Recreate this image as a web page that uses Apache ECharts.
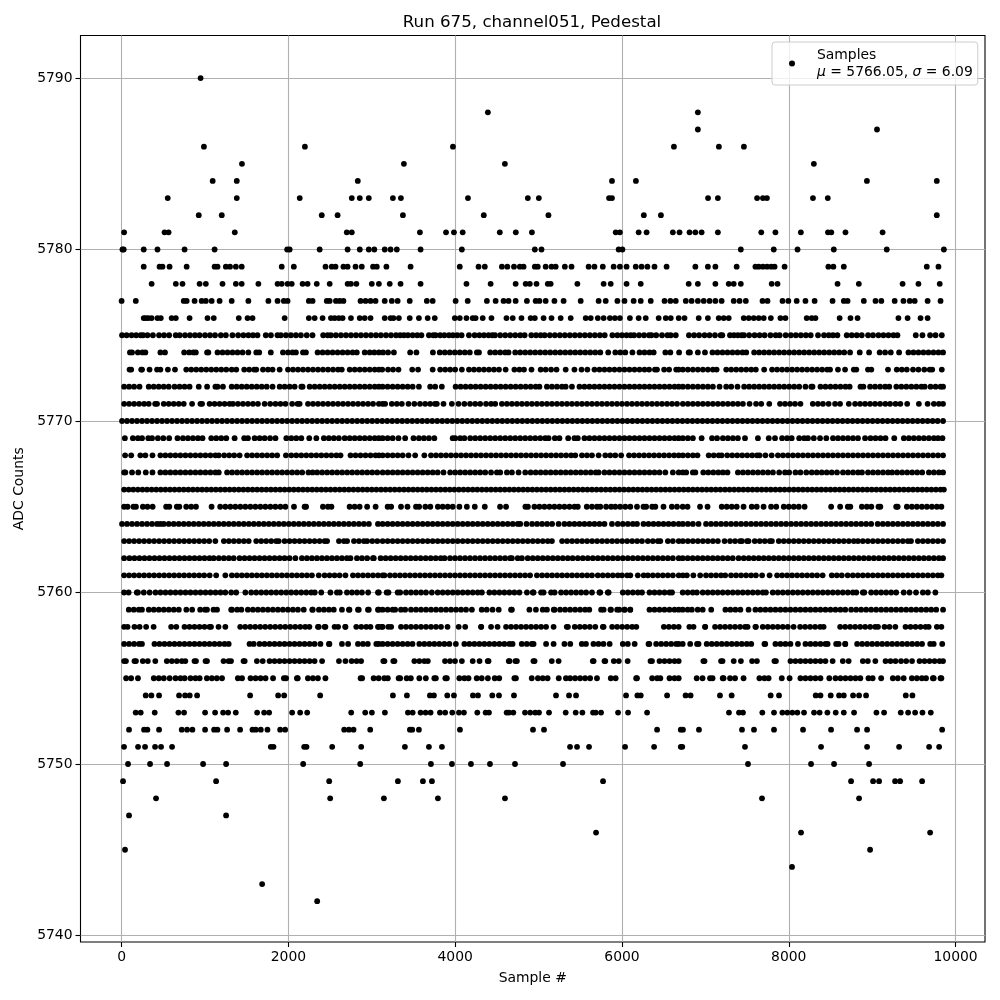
<!DOCTYPE html>
<html><head><meta charset="utf-8">
<style>html,body{margin:0;padding:0;background:#fff}#c{width:1000px;height:1000px}</style>
<script src="https://cdn.jsdelivr.net/npm/echarts@6/dist/echarts.min.js"></script>
</head><body><div id="c"></div>
<script>
const xTicks=[0,2000,4000,6000,8000,10000];
const yTicks=[5740,5750,5760,5770,5780,5790];
const s5790=[947];
const s5788=[4392,6910];
const s5787=[6910,9058];
const s5786=[987,2198,3973,6623,7162,7462];
const s5785=[1443,3385,4596,8301];
const s5784=[1092,1381,2832,5880,6167,8937,9775];
const s5783=[553,1381,2136,2760,2856,2964,3253,3349,4153,4871,5003,5845,5880,7032,7150,7620,7690,7738,8290,8468];
const s5782=[925,1201,2400,2590,3373,4343,5118,6262,6467,9775];
const s5781=[30,515,563,1357,2700,2760,3577,3890,3985,4090,4535,4727,4920,5925,5975,6200,6295,6610,6690,6810,6880,6955,7150,7670,7840,8145,8470,8510,8680,9125];
const s5780=[10,25,265,430,755,1115,1985,2015,2375,2710,2856,2964,3030,3155,3225,3300,3585,4080,4955,5035,5960,6005,7425,7820,8105,8540,9175,9860];
const s5779=[265,455,490,575,780,1115,1150,1250,1300,1370,1440,1920,2065,2445,2520,2565,2660,2710,2805,2880,3015,3060,3175,3465,4055,4280,4355,4560,4625,4705,4775,4820,4955,4990,5085,5155,5205,5315,5395,5600,5670,5770,5900,5975,6055,6165,6235,6305,6390,6535,6880,7030,7120,7375,7600,7640,7690,7740,7790,7830,7950,8475,8535,8660,9655,9795];
const s5778=[360,650,730,935,1010,1210,1370,1440,1640,1870,1920,1990,2040,2170,2230,2340,2495,2710,2750,2815,3000,3085,3215,3345,3585,4135,4425,4725,4845,4895,4975,5110,5145,5465,5780,5865,6055,6225,6800,6910,7120,7280,7340,7425,7795,7865,8585,8840,9365,9555,9810];
const s5777=[0,170,745,780,875,960,1010,1080,1175,1320,1520,1760,1870,1945,1990,2245,2290,2460,2495,2570,2615,2660,2865,2925,2985,3045,3155,3240,3310,3455,3660,3730,4005,4150,4380,4485,4580,4640,4725,4860,4965,5010,5085,5190,5300,5505,5720,5805,5945,6030,6140,6225,6345,6510,6580,6645,6765,6835,6910,6980,7050,7120,7195,7340,7410,7485,7685,7745,7925,7995,8095,8200,8310,8525,8660,8705,8900,9040,9110,9270,9375,9450,9510,9665,9820];
const s5776=[265,290,320,360,430,470,600,650,815,1030,1105,1405,1510,1570,1955,2245,2315,2410,2510,2555,2605,2650,2750,2855,2915,2985,3155,3225,3260,3325,3455,3565,3670,3755,3995,4055,4135,4210,4245,4330,4435,4615,4690,4795,4905,4955,5060,5155,5265,5385,5565,5625,5710,5780,5855,5915,5975,6095,6200,6285,6440,6525,6585,6680,6750,6920,7030,7160,7220,7280,7460,7520,7580,7640,7700,7785,7900,7960,8215,8275,8320,8610,8740,8825,9315,9425,9580,9665];
const s5775=[5,60,120,175,229,257,310,375,449,509,570,649,697,760,820,880,935,1000,1060,1120,1190,1250,1329,1397,1460,1520,1575,1629,1729,1790,1869,1909,1970,2030,2090,2150,2220,2289,2417,2470,2509,2569,2630,2690,2750,2810,2870,2930,2990,3050,3109,3170,3230,3290,3340,3385,3433,3490,3545,3595,3685,3737,3765,3820,3870,3925,3973,4025,4077,4165,4233,4290,4345,4400,4445,4477,4540,4600,4660,4720,4780,4833,4913,4970,5025,5073,5135,5195,5255,5315,5375,5435,5495,5555,5615,5675,5735,5793,5885,5945,6000,6055,6105,6145,6205,6265,6325,6353,6410,6480,6545,6585,6645,6803,6865,6925,6990,7050,7115,7183,7203,7295,7343,7390,7435,7463,7525,7590,7650,7710,7780,7843,7891,7963,8025,8085,8145,8205,8263,8351,8423,8480,8530,8583,8695,8755,8815,8875,8951,9010,9075,9135,9195,9255,9303,9523,9603,9695,9760,9835];
const s5774=[100,125,195,250,285,465,520,750,810,860,890,1025,1040,1150,1210,1270,1330,1390,1450,1520,1615,1650,1789,1935,1995,2050,2090,2175,2210,2350,2410,2470,2530,2590,2650,2710,2770,2820,2915,2975,3030,3085,3135,3195,3265,3460,3535,3733,3815,3875,3935,3995,4055,4115,4175,4260,4285,4420,4480,4540,4600,4640,4720,4780,4840,4900,4960,5020,5080,5140,5200,5260,5320,5380,5440,5500,5560,5620,5680,5740,5835,5920,5980,6040,6125,6210,6270,6330,6380,6520,6580,6685,6800,6815,6910,6995,7085,7145,7205,7265,7325,7385,7445,7490,7585,7645,7705,7765,7825,7885,7945,8005,8065,8125,8185,8245,8305,8365,8425,8485,8545,8605,8665,8735,8851,8963,9090,9155,9223,9323,9435,9495,9555,9615,9675,9735,9795,9850];
const s5773=[95,115,235,245,335,425,465,555,640,775,835,895,955,1015,1075,1135,1195,1255,1320,1375,1470,1530,1590,1615,1695,1755,1810,1895,1995,2055,2115,2175,2235,2295,2355,2415,2475,2535,2595,2640,2735,2795,2855,2915,2975,3035,3085,3125,3195,3255,3320,3485,3555,3730,3820,3880,3940,4000,4080,4165,4225,4285,4345,4405,4465,4525,4605,4710,4770,4825,4915,5025,5085,5150,5215,5325,5430,5515,5585,5670,5730,5790,5850,5910,5970,6030,6090,6150,6210,6270,6325,6395,6420,6505,6565,6650,6680,6730,6790,6850,6910,6970,7030,7090,7135,7250,7310,7370,7430,7490,7550,7605,7705,7800,7860,7920,7980,8040,8100,8160,8220,8280,8340,8400,8460,8495,8590,8675,8780,8810,8950,8990,9190,9295,9355,9415,9490,9555,9625,9690,9720,9835];
const s5772=[30,90,150,215,325,385,445,505,565,635,695,755,815,925,1025,1125,1150,1215,1320,1380,1440,1500,1560,1620,1680,1740,1810,1895,1955,2015,2075,2155,2170,2255,2315,2375,2435,2495,2555,2615,2675,2735,2795,2855,2915,2975,3035,3085,3130,3190,3250,3310,3370,3430,3490,3565,3700,3760,3840,4005,4065,4125,4185,4245,4305,4365,4425,4485,4545,4605,4665,4725,4785,4845,4905,4965,5010,5100,5160,5220,5280,5325,5400,5490,5550,5610,5670,5730,5790,5850,5910,5970,6030,6090,6150,6210,6270,6330,6390,6450,6510,6570,6630,6680,6730,6790,6850,6910,6970,7030,7090,7170,7250,7310,7385,7465,7525,7585,7645,7705,7765,7825,7885,7945,8005,8065,8125,8200,8270,8285,8380,8440,8500,8560,8620,8680,8730,8860,8895,8975,9035,9095,9155,9205,9290,9350,9410,9470,9530,9590,9630,9700,9760,9820,9850];
const s5771=[30,90,150,210,270,325,402,425,505,565,625,685,745,845,945,965,1055,1115,1175,1235,1295,1335,1395,1455,1515,1575,1635,1715,1782,1845,1905,1965,2045,2110,2135,2235,2295,2355,2415,2475,2535,2595,2655,2715,2775,2835,2895,2955,3015,3085,3130,3160,3240,3300,3360,3440,3510,3578,3640,3700,3758,3780,3860,3960,4040,4110,4178,4240,4300,4370,4430,4480,4560,4620,4680,4740,4800,4860,4920,4980,5040,5100,5160,5220,5280,5340,5400,5460,5520,5580,5640,5700,5760,5820,5880,5940,6000,6060,6120,6180,6240,6300,6360,6420,6480,6540,6600,6660,6730,6790,6850,6910,6970,7030,7090,7150,7210,7270,7330,7390,7450,7530,7608,7670,7766,7895,7955,8015,8075,8140,8288,8350,8410,8478,8555,8615,8720,8795,8855,8915,8975,9035,9095,9158,9215,9280,9338,9420,9560,9665,9740,9800,9850];
const s5770=[5,65,125,185,245,305,365,425,485,545,605,665,725,785,845,905,965,1025,1085,1145,1205,1265,1325,1385,1445,1505,1565,1625,1685,1745,1805,1865,1925,1985,2045,2105,2165,2225,2285,2345,2405,2465,2525,2585,2645,2705,2765,2825,2885,2945,3005,3065,3125,3185,3245,3305,3365,3425,3485,3545,3605,3665,3725,3785,3845,3905,3965,4025,4085,4145,4205,4265,4325,4385,4445,4505,4565,4625,4685,4745,4805,4865,4925,4985,5045,5105,5165,5225,5285,5345,5405,5465,5525,5585,5645,5705,5765,5825,5885,5945,6005,6065,6125,6185,6245,6305,6365,6425,6485,6545,6605,6665,6725,6785,6845,6905,6965,7025,7085,7145,7205,7265,7325,7385,7445,7505,7565,7625,7685,7745,7805,7865,7925,7985,8045,8105,8165,8225,8285,8345,8405,8465,8525,8585,8645,8705,8765,8825,8885,8945,9005,9065,9125,9185,9245,9305,9365,9425,9485,9545,9605,9665,9725,9785,9850];
const s5769=[39,135,195,245,320,365,435,500,570,670,735,795,855,915,970,1075,1135,1195,1255,1355,1470,1515,1595,1655,1715,1780,1845,1975,2035,2095,2155,2250,2335,2425,2485,2545,2605,2675,2735,2795,2855,2915,2975,3035,3085,3130,3190,3250,3320,3400,3500,3565,3625,3685,3750,3970,4000,4060,4110,4180,4240,4300,4360,4420,4480,4540,4600,4660,4720,4780,4840,4900,4960,5020,5080,5120,5195,5250,5355,5430,5470,5550,5610,5670,5730,5790,5850,5910,5970,6030,6090,6150,6210,6270,6330,6390,6450,6510,6570,6630,6680,6730,6790,6850,6955,7080,7140,7210,7270,7330,7390,7475,7630,7760,7835,7920,7980,8035,8125,8185,8230,8300,8375,8450,8530,8590,8650,8710,8770,8830,8915,8980,9040,9100,9160,9265,9380,9440,9500,9560,9620,9680,9740,9790,9843];
const s5768=[42,115,225,285,370,465,525,585,645,705,765,825,885,945,1005,1065,1125,1165,1230,1290,1350,1415,1505,1565,1625,1685,1745,1805,1865,1970,2035,2095,2155,2215,2275,2335,2395,2455,2515,2575,2625,2745,2805,2865,2925,2985,3045,3085,3130,3190,3250,3310,3370,3440,3520,3630,3710,3770,3830,3890,3950,4010,4070,4130,4190,4250,4310,4370,4430,4490,4550,4610,4670,4730,4790,4850,4910,4970,5030,5090,5150,5210,5270,5330,5390,5440,5520,5580,5640,5720,5800,5860,5920,5990,6085,6145,6205,6265,6325,6385,6445,6505,6565,6625,6680,6730,6790,6850,6905,7040,7100,7160,7195,7262,7322,7382,7442,7502,7562,7620,7650,7720,7795,7870,7930,7990,8050,8110,8170,8230,8290,8350,8410,8470,8530,8590,8650,8710,8770,8830,8890,8950,9010,9070,9130,9190,9250,9310,9370,9430,9490,9550,9610,9670,9730,9790,9850];
const s5767=[30,45,125,200,290,370,465,525,585,645,705,765,825,885,945,1005,1065,1125,1165,1265,1325,1385,1445,1505,1565,1625,1685,1745,1805,1865,1925,1985,2045,2105,2165,2240,2290,2345,2405,2465,2525,2585,2645,2705,2765,2825,2885,2945,3005,3065,3130,3190,3250,3310,3370,3430,3490,3550,3610,3670,3730,3790,3860,3940,4000,4060,4120,4180,4240,4300,4360,4430,4500,4540,4620,4680,4760,4840,4905,4965,5025,5085,5145,5205,5265,5325,5385,5445,5505,5565,5625,5685,5720,5790,5850,5910,5970,6030,6090,6150,6210,6270,6330,6390,6450,6520,6610,6680,6730,6770,6850,6880,6975,7035,7095,7155,7210,7265,7390,7450,7510,7570,7630,7690,7750,7810,7885,7955,8005,8080,8140,8210,8275,8335,8395,8455,8515,8578,8650,8710,8770,8830,8878,8950,9010,9070,9130,9190,9240,9300,9360,9420,9480,9540,9600,9680,9740,9800,9850];
const s5766=[30,85,140,195,250,305,360,415,470,525,580,635,690,745,800,855,910,965,1020,1075,1130,1185,1240,1295,1350,1405,1460,1515,1570,1625,1680,1735,1790,1845,1900,1955,2010,2065,2120,2175,2230,2285,2340,2395,2450,2505,2560,2615,2670,2725,2780,2835,2890,2945,3000,3055,3110,3165,3220,3275,3330,3385,3440,3495,3550,3605,3660,3715,3770,3825,3880,3935,3990,4045,4100,4155,4210,4265,4320,4375,4430,4485,4540,4595,4650,4705,4760,4815,4870,4925,4980,5035,5090,5145,5200,5255,5310,5365,5420,5475,5530,5585,5640,5695,5750,5805,5860,5915,5970,6025,6080,6135,6190,6245,6300,6355,6410,6465,6520,6575,6630,6685,6740,6795,6850,6905,6960,7015,7070,7125,7180,7235,7290,7345,7400,7455,7510,7565,7620,7675,7730,7785,7840,7895,7950,8005,8060,8115,8170,8225,8280,8335,8390,8445,8500,8555,8610,8665,8720,8775,8830,8885,8940,8995,9050,9105,9160,9215,9270,9325,9380,9435,9490,9545,9600,9655,9710,9765,9820,9860];
const s5765=[30,72,142,172,255,310,372,534,572,662,692,775,835,892,1079,1182,1244,1304,1364,1424,1484,1544,1604,1664,1724,1784,1844,1904,1964,2067,2194,2212,2414,2474,2516,2734,2794,2854,2944,3046,3190,3232,3350,3428,3530,3568,3642,3702,3792,3850,3910,3970,4050,4140,4235,4355,4538,4610,4842,4872,4950,5010,5070,5130,5190,5250,5310,5370,5430,5470,5578,5640,5700,5740,5810,5870,5920,5978,6040,6100,6180,6258,6290,6362,6400,6498,6598,6660,6728,6786,6936,7026,7196,7256,7316,7376,7458,7556,7616,7698,7788,7850,7940,8000,8060,8120,8190,8508,8616,8708,8738,8876,8936,8990,9076,9098,9288,9306,9416,9476,9536,9596,9656,9716,9776,9830];
const s5764=[5,65,125,185,245,305,365,425,465,505,565,625,685,745,805,865,925,985,1045,1105,1165,1225,1285,1345,1405,1465,1525,1585,1645,1705,1765,1825,1885,1945,2005,2065,2125,2185,2245,2305,2365,2425,2485,2545,2605,2665,2725,2785,2845,2905,2965,3074,3130,3190,3250,3310,3370,3430,3490,3550,3610,3670,3730,3790,3850,3910,3970,4030,4090,4150,4210,4270,4330,4390,4450,4510,4570,4630,4690,4750,4780,4855,4922,4982,5042,5102,5162,5240,5310,5370,5430,5490,5550,5610,5670,5730,5790,5880,5950,6010,6070,6130,6180,6258,6318,6378,6438,6498,6558,6618,6680,6730,6790,6850,6918,7008,7068,7128,7188,7248,7308,7368,7428,7488,7548,7608,7668,7728,7788,7848,7908,7968,8028,8088,8148,8208,8268,8328,8388,8448,8508,8568,8628,8688,8748,8808,8868,8928,8988,9066,9128,9188,9248,9308,9368,9428,9488,9548,9608,9668,9728,9788,9850];
const s5763=[30,90,150,210,270,330,390,450,510,570,630,690,750,810,870,930,990,1050,1124,1226,1286,1346,1406,1466,1524,1614,1674,1734,1794,1854,1884,1954,2014,2074,2134,2194,2254,2314,2374,2434,2464,2606,2666,2704,2786,2846,2906,2944,3006,3066,3130,3190,3250,3310,3370,3430,3490,3550,3610,3670,3730,3790,3850,3910,3970,4030,4090,4150,4210,4270,4330,4390,4450,4510,4570,4630,4690,4750,4810,4870,4930,4990,5050,5110,5160,5282,5342,5402,5462,5522,5582,5642,5702,5762,5822,5882,5942,6002,6062,6122,6182,6240,6310,6370,6430,6460,6550,6610,6680,6730,6790,6850,6910,6970,7030,7090,7150,7230,7296,7356,7416,7438,7500,7518,7592,7652,7712,7772,7798,7880,7940,8000,8060,8120,8180,8240,8300,8360,8420,8480,8540,8600,8660,8720,8780,8830,8888,8948,9008,9068,9128,9188,9248,9308,9368,9428,9466,9548,9608,9668,9728,9788,9850];
const s5762=[30,94,154,214,274,334,394,454,514,574,634,694,754,814,874,934,994,1054,1104,1166,1226,1286,1344,1414,1474,1534,1594,1654,1714,1774,1834,1894,1954,2014,2084,2162,2222,2282,2342,2402,2462,2522,2582,2642,2702,2744,2822,2882,2944,3014,3024,3106,3166,3226,3286,3346,3406,3466,3526,3586,3646,3706,3766,3826,3872,3938,3998,4058,4118,4178,4238,4298,4358,4418,4478,4538,4598,4658,4680,4750,4800,4870,4930,4990,5050,5110,5170,5230,5290,5350,5408,5470,5530,5590,5650,5710,5770,5830,5890,5950,6010,6070,6130,6190,6250,6310,6370,6430,6490,6550,6610,6680,6728,6788,6848,6908,6968,7028,7088,7148,7208,7268,7328,7398,7460,7520,7580,7640,7700,7760,7820,7880,7940,8000,8060,8120,8180,8240,8300,8360,8420,8480,8540,8600,8660,8720,8780,8840,8900,8960,9020,9080,9140,9200,9260,9320,9380,9440,9500,9560,9620,9680,9740,9800,9850];
const s5761=[30,90,150,210,270,330,390,450,510,570,630,690,750,810,870,930,990,1056,1134,1244,1322,1382,1442,1502,1562,1622,1682,1742,1802,1862,1922,1982,2042,2102,2162,2222,2282,2364,2434,2494,2554,2614,2684,2774,2834,2894,2954,3014,3074,3130,3152,3218,3278,3338,3398,3458,3518,3578,3638,3698,3758,3818,3878,3938,3998,4058,4118,4178,4238,4298,4358,4418,4478,4538,4598,4658,4718,4778,4838,4898,4980,5042,5102,5162,5222,5282,5342,5402,5462,5522,5582,5640,5710,5770,5830,5890,5950,6000,6062,6100,6190,6260,6310,6370,6430,6490,6550,6610,6680,6730,6778,6856,6938,7008,7068,7128,7188,7238,7308,7368,7428,7488,7548,7606,7680,7770,7860,7920,7980,8040,8100,8160,8220,8280,8340,8406,8516,8576,8636,8706,8768,8828,8888,8948,9008,9068,9128,9188,9248,9308,9368,9428,9488,9548,9608,9668,9728,9788,9830];
const s5760=[30,84,182,196,266,336,406,466,526,586,646,706,766,826,886,946,1006,1066,1126,1186,1244,1314,1374,1484,1554,1614,1674,1734,1794,1854,1914,1974,2034,2094,2154,2214,2274,2316,2394,2504,2582,2616,2702,2762,2822,2882,2956,3074,3084,3178,3200,3310,3340,3410,3470,3530,3590,3650,3720,3790,3850,3910,3970,4030,4090,4150,4210,4270,4320,4410,4470,4530,4590,4650,4710,4770,4860,4930,4940,5030,5060,5150,5192,5270,5330,5390,5450,5510,5570,5640,5730,5740,5830,5840,6010,6070,6130,6190,6240,6330,6390,6450,6510,6570,6600,6728,6788,6848,6898,6968,7028,7088,7148,7208,7268,7328,7388,7448,7508,7568,7628,7688,7726,7808,7868,7928,7988,8048,8108,8168,8228,8288,8348,8408,8468,8528,8588,8648,8708,8768,8810,8888,8906,8988,9048,9108,9168,9228,9288,9378,9448,9526,9608,9668,9758];
const s5759=[86,146,206,244,326,386,446,506,566,626,686,776,846,942,1000,1024,1102,1144,1314,1324,1386,1436,1514,1574,1634,1694,1754,1814,1874,1934,1994,2054,2114,2184,2286,2292,2366,2426,2486,2544,2642,2726,2732,2834,2844,2954,2964,3074,3084,3130,3190,3250,3280,3350,3400,3470,3530,3590,3650,3710,3770,3830,3890,3950,4010,4070,4130,4200,4318,4378,4448,4522,4670,4680,4890,4968,5050,5100,5182,5192,5258,5318,5378,5438,5498,5558,5608,5750,5780,5862,5868,5942,5968,6030,6032,6098,6100,6330,6390,6450,6510,6570,6630,6680,6728,6788,6838,6908,6968,7070,7240,7300,7360,7420,7518,7600,7660,7720,7780,7840,7900,7960,8020,8080,8140,8200,8260,8320,8380,8440,8500,8560,8620,8678,8748,8808,8868,8928,8988,9048,9108,9168,9228,9288,9348,9408,9468,9528,9588,9648,9708,9768,9850];
const s5758=[30,72,154,216,294,384,594,656,754,814,874,934,994,1054,1072,1162,1244,1422,1482,1542,1602,1662,1722,1782,1842,1902,1962,2022,2082,2142,2202,2252,2354,2364,2434,2444,2554,2596,2682,2684,2814,2874,2934,2984,3074,3084,3130,3120,3198,3232,3350,3410,3470,3530,3590,3650,3710,3770,3830,3908,4042,4120,4310,4312,4430,4508,4610,4670,4730,4790,4850,4910,4970,5030,5090,5180,5338,5352,5434,5494,5554,5614,5680,5770,5780,5882,5942,6002,6062,6122,6172,6502,6562,6622,6680,6808,6858,6996,6998,7116,7176,7236,7296,7356,7416,7476,7506,7600,7606,7688,7748,7808,7868,7928,7988,8058,8136,8196,8256,8316,8376,8418,8616,8676,8736,8796,8856,8916,8976,9036,9070,9148,9208,9278,9400,9460,9520,9580,9640,9678,9776,9830];
const s5757=[30,90,150,210,244,394,454,514,574,634,694,754,814,874,934,994,1054,1114,1174,1234,1284,1534,1584,1654,1714,1774,1834,1894,1954,2014,2074,2134,2194,2254,2314,2384,2486,2492,2642,2716,2834,2894,2952,3054,3084,3130,3190,3250,3310,3370,3430,3488,3570,3630,3690,3750,3810,3870,3930,4008,4110,4170,4230,4290,4350,4410,4470,4530,4590,4650,4688,4798,4858,4918,4940,5090,5180,5310,5380,5518,5568,5658,5718,5778,5852,6010,6070,6152,6318,6328,6410,6470,6530,6590,6650,6680,6728,6818,6900,6918,7016,7076,7136,7196,7256,7316,7376,7436,7496,7550,7708,7718,7840,7900,7960,8020,8110,8200,8260,8320,8380,8440,8466,8568,8598,8676,8678,8820,8880,8940,9000,9060,9120,9180,9240,9300,9360,9420,9480,9540,9598,9696,9738,9840];
const s5756=[30,52,154,172,254,314,404,542,602,662,722,764,874,892,1006,1024,1222,1282,1312,1462,1476,1622,1692,1774,1834,1894,1954,2014,2074,2134,2194,2254,2314,2404,2606,2684,2758,2818,2872,3138,3152,3258,3272,3510,3570,3630,3672,3878,3938,3998,4080,4210,4292,4390,4400,4642,4652,4722,4740,4938,4952,5158,5240,5650,5660,5790,5800,5902,5962,6068,6342,6360,6450,6510,6570,6630,6680,6976,6990,7188,7206,7340,7426,7560,7618,7828,7846,8020,8080,8140,8200,8260,8320,8380,8440,8526,8648,8718,8888,8948,9038,9160,9220,9280,9346,9408,9478,9568,9628,9688,9748,9808,9850];
const s5755=[54,114,196,386,446,506,576,646,706,756,826,886,936,1022,1082,1142,1204,1394,1444,1546,1606,1666,1726,1816,1946,1972,2102,2112,2234,2294,2354,2444,2866,2884,3022,3082,3150,3192,3322,3340,3418,3468,3570,3648,3750,3768,3882,3900,4050,4110,4160,4258,4318,4392,4474,4528,4710,4728,4918,4992,5050,5108,5242,5328,5378,5438,5498,5558,5618,5700,5866,5924,6170,6180,6362,6422,6460,6570,6630,6680,6896,6966,7056,7086,7208,7218,7296,7356,7458,7648,7708,7758,7916,8010,8140,8200,8260,8320,8380,8486,8560,8620,8680,8740,8800,8858,8956,9006,9108,9248,9308,9378,9476,9536,9596,9646,9728,9738,9820,9830];
const s5754=[289,357,449,689,761,817,905,1541,1877,1949,2381,3253,3421,3697,3745,3905,3985,4213,4273,4445,4525,4705,5209,5365,5449,6049,6185,6225,6541,6763,6823,7175,7315,7783,7883,8323,8380,8503,8603,8660,8771,8843,8927,9403,9483];
const s5753=[169,229,397,681,749,1001,1121,1217,1277,1369,1625,1709,1769,2045,2141,2225,2753,2921,3001,3157,3433,3490,3585,3645,3705,3817,3880,3965,4045,4105,4265,4365,4405,4617,4645,4697,4837,4900,4960,5005,5125,5325,5445,5525,5653,5685,5749,5953,6073,6301,7283,7403,7451,7683,7823,7923,7983,8043,8103,8183,8303,8370,8463,8563,8660,8783,9051,9143,9343,9431,9515,9603,9703];
const s5752=[89,269,309,449,721,785,849,1001,1109,1149,1265,1421,1569,1609,1669,1749,1901,1961,2669,2725,2781,2981,3457,3485,3565,4057,4933,5065,6421,6705,6731,6923,7439,7583,7823,8171,8507,8819,8939,9839];
const s5751=[29,197,281,401,473,605,1789,1821,2189,2217,2525,2873,3397,3685,3841,5377,5461,5605,6037,6385,6705,6723,7475,8387,8939,9323,9683,9803];
const s5750=[77,341,545,977,1253,2177,2861,3709,3961,4189,4417,4717,5293,7511,8267,8543,8963];
const s5749=[17,1133,2489,3313,3613,3721,5773,8747,9011,9083,9275,9335,9599];
const s5748=[413,2501,3145,3793,4597,7679,8843];
const s5747=[89,1253];
const s5746=[5689,8147,9695];
const s5745=[41,8975];
const s5744=[8039];
const s5743=[1685];
const s5742=[2345];
const levelTable=[[5790,s5790],[5788,s5788],[5787,s5787],[5786,s5786],[5785,s5785],[5784,s5784],[5783,s5783],[5782,s5782],[5781,s5781],[5780,s5780],[5779,s5779],[5778,s5778],[5777,s5777],[5776,s5776],[5775,s5775],[5774,s5774],[5773,s5773],[5772,s5772],[5771,s5771],[5770,s5770],[5769,s5769],[5768,s5768],[5767,s5767],[5766,s5766],[5765,s5765],[5764,s5764],[5763,s5763],[5762,s5762],[5761,s5761],[5760,s5760],[5759,s5759],[5758,s5758],[5757,s5757],[5756,s5756],[5755,s5755],[5754,s5754],[5753,s5753],[5752,s5752],[5751,s5751],[5750,s5750],[5749,s5749],[5748,s5748],[5747,s5747],[5746,s5746],[5745,s5745],[5744,s5744],[5743,s5743],[5742,s5742]];
const points=[];
levelTable.forEach(([v,xs])=>xs.forEach(x=>points.push([x,v])));
const font='"DejaVu Sans"';
const tickLabel={fontFamily:font,fontSize:13.9,color:'#000'};
const chart=echarts.init(document.getElementById('c'),null,{renderer:'canvas'});
chart.setOption({
  animation:false,
  backgroundColor:'#fff',
  title:{text:'Run 675, channel051, Pedestal',left:527,top:9,textAlign:'center',
    textStyle:{fontFamily:font,fontSize:16.67,fontWeight:'normal',color:'#000'}},
  grid:{left:80.5,top:35.5,right:15,bottom:58,show:true,borderColor:'#000',borderWidth:1.1,backgroundColor:'transparent'},
  legend:{left:772,top:42,padding:[6,5,6,17],itemWidth:6,itemHeight:6,icon:'circle',
    backgroundColor:'rgba(255,255,255,0.8)',borderColor:'#ccc',borderWidth:1,borderRadius:3,
    data:['Samples'],
    formatter:()=>'{s|}{a|Samples}\n{s|}{i|μ}{a| = 5766.05, }{i|σ}{a| = 6.09}',
    textStyle:{fontFamily:font,fontSize:13.9,color:'#000',rich:{
      s:{width:17,lineHeight:17},
      a:{fontFamily:font,fontSize:13.9,lineHeight:17,color:'#000'},
      i:{fontFamily:font,fontSize:13.9,lineHeight:17,fontStyle:'italic',color:'#000'}}}},
  xAxis:{type:'value',min:-493,max:10353,name:'Sample #',nameLocation:'middle',nameGap:29,
    nameTextStyle:{fontFamily:font,fontSize:13.9,color:'#000'},
    axisLine:{show:false,onZero:false},
    axisTick:{show:true,length:5,customValues:xTicks,lineStyle:{color:'#000',width:1.1}},
    axisLabel:Object.assign({margin:8,customValues:xTicks,formatter:v=>String(v)},tickLabel),
    splitLine:{show:true,lineStyle:{color:'#b0b0b0',width:1.1}}},
  yAxis:{type:'value',min:5739.62,max:5792.48,name:'ADC Counts',nameLocation:'middle',nameGap:52,
    nameTextStyle:{fontFamily:font,fontSize:13.9,color:'#000'},
    axisLine:{show:false,onZero:false},
    axisTick:{show:true,length:5,customValues:yTicks,lineStyle:{color:'#000',width:1.1}},
    axisLabel:Object.assign({margin:8,customValues:yTicks,formatter:v=>String(v)},tickLabel),
    splitLine:{show:true,lineStyle:{color:'#b0b0b0',width:1.1}}},
  series:[{name:'Samples',type:'scatter',symbol:'circle',symbolSize:5.8,silent:true,
    itemStyle:{color:'#000',opacity:1},data:points,large:false,progressive:0}]
});
</script></body></html>
